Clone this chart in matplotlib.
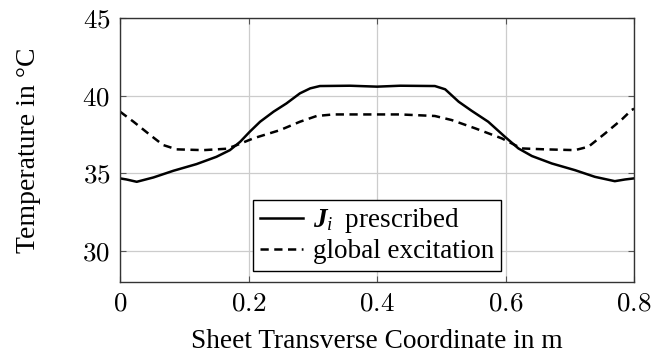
import matplotlib
matplotlib.use("Agg")
import matplotlib.pyplot as plt

plt.rcParams['font.family'] = 'serif'
plt.rcParams['font.serif'] = ['Liberation Serif', 'DejaVu Serif']
plt.rcParams['mathtext.fontset'] = 'custom'
plt.rcParams['mathtext.rm'] = 'cmr10'
plt.rcParams['mathtext.it'] = 'Liberation Serif:italic'
plt.rcParams['mathtext.bf'] = 'Liberation Serif:bold'
plt.rcParams['mathtext.bfit'] = 'Liberation Serif:bold:italic'

# Данные
x_j = [0, 0.010, 0.026, 0.052, 0.083, 0.119, 0.150, 0.171, 0.187, 0.202, 0.218,
       0.239, 0.259, 0.280, 0.296, 0.311, 0.358, 0.40, 0.436, 0.490, 0.506,
       0.527, 0.547, 0.573, 0.599, 0.620, 0.641, 0.672, 0.708, 0.739, 0.770,
       0.786, 0.8]
y_j = [34.66, 34.59, 34.44, 34.72, 35.15, 35.58, 36.05, 36.48, 37.02, 37.67, 38.31,
       38.96, 39.49, 40.14, 40.46, 40.61, 40.63, 40.57, 40.63, 40.61, 40.40,
       39.6, 39.02, 38.31, 37.34, 36.59, 36.1, 35.62, 35.19, 34.76, 34.48,
       34.59, 34.66]

x_g = [0, 0.021, 0.047, 0.067, 0.088, 0.13, 0.166, 0.182, 0.2075, 0.249, 0.280,
       0.306, 0.332, 0.436, 0.490, 0.516, 0.553, 0.594, 0.625, 0.662, 0.708,
       0.729, 0.755, 0.781, 0.796, 0.8]
y_g = [38.96, 38.31, 37.45, 36.81, 36.53, 36.48, 36.57, 36.81, 37.24, 37.77, 38.31,
       38.68, 38.78, 38.78, 38.68, 38.42, 37.88, 37.24, 36.59, 36.53, 36.48,
       36.7, 37.56, 38.46, 39.06, 39.15]

x_ticks = [0, 0.2, 0.4, 0.6, 0.8]
x_ticklabels = ['0', '0.2', '0.4', '0.6', '0.8']
y_ticks = [30, 35, 40, 45]
y_ticklabels = ['30', '35', '40', '45']

fig = plt.figure(figsize=(6.65, 3.58), dpi=100)
ax = fig.add_axes([0.1805, 0.213, 0.773, 0.737])

ax.plot(x_j, y_j, color='black', lw=1.8, label=r'$\mathbfit{J}_i\;$ prescribed')
ax.plot(x_g, y_g, color='black', lw=1.8, dashes=(3.3, 2.2), label='global excitation')

ax.set_xlim(0, 0.8)
ax.set_ylim(28, 45)
ax.set_xticks(x_ticks)
ax.set_xticklabels(['$' + t + '$' for t in x_ticklabels], fontsize=19.5)
ax.set_yticks(y_ticks)
ax.set_yticklabels(['$' + t + '$' for t in y_ticklabels], fontsize=19.5)
ax.tick_params(direction='in', length=4, width=0.8, color='#555555',
               top=True, right=True, pad=7)
ax.grid(color='#cccccc', lw=0.9)
for s in ax.spines.values():
    s.set_color('#333333')
    s.set_linewidth(1.0)

ax.set_xlabel('Sheet Transverse Coordinate in m', fontsize=19.7, labelpad=9)
ax.set_ylabel('Temperature in °C', fontsize=20, labelpad=30)

leg = ax.legend(loc='lower center', bbox_to_anchor=(0.5, 0.04), fontsize=19.5,
                fancybox=False, framealpha=1, edgecolor='black',
                handlelength=1.6, handletextpad=0.35, borderpad=0.25,
                labelspacing=0.15, borderaxespad=0)
leg.get_frame().set_linewidth(1.0)

fig.savefig('out.png', dpi=100)
